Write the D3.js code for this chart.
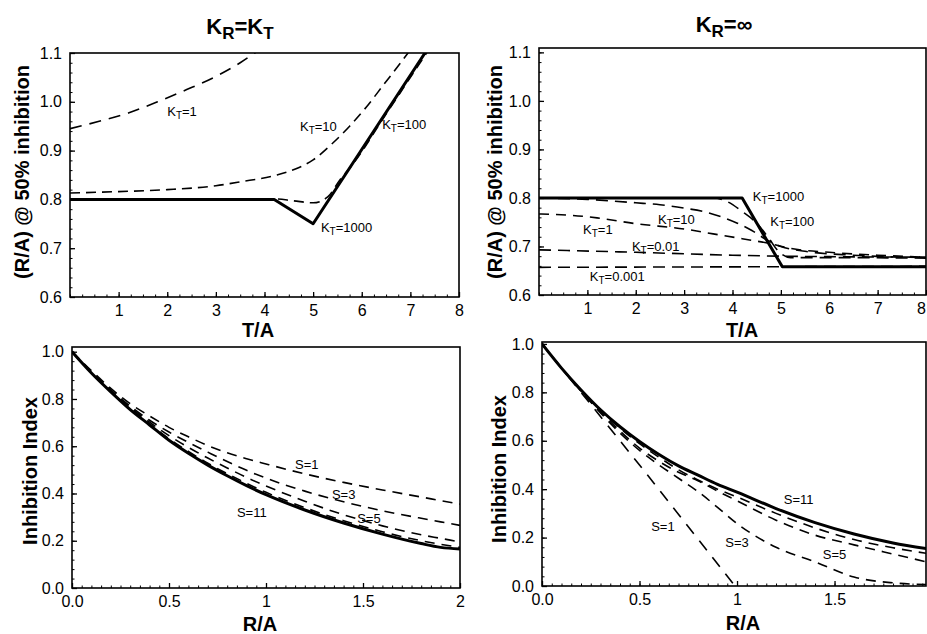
<!DOCTYPE html>
<html><head><meta charset="utf-8">
<script src="https://cdn.jsdelivr.net/npm/d3@7"></script>
<style>
body{margin:0;background:#fff}
svg{display:block}
text{font-family:"Liberation Sans",Arial,Helvetica,sans-serif;fill:#000}
</style>
</head><body>
<svg id="c" width="927" height="634"></svg>
<script>
// ---------- Panel A (top-left): K_R = K_T, (R/A)@50% vs T/A ----------
const A_kt1_x    = [0, 0.6, 1.2, 1.8, 2.4, 3.0, 3.5, 3.8, 4.1];
const A_kt1_y    = [0.945, 0.96, 0.977, 1.0, 1.025, 1.052, 1.08, 1.1, 1.12];
const A_kt10_x   = [0, 1, 2, 3, 3.5, 4.25, 4.7, 5.0, 5.4, 5.75, 6.1, 6.45, 6.8, 7.1];
const A_kt10_y   = [0.813, 0.816, 0.82, 0.828, 0.836, 0.85, 0.865, 0.881, 0.915, 0.95, 0.99, 1.035, 1.08, 1.12];
const A_kt100_x  = [0, 4.2, 4.6, 5.0, 5.3, 5.55, 5.8, 6.5, 7.3, 7.6];
const A_kt100_y  = [0.801, 0.801, 0.797, 0.793, 0.805, 0.84, 0.87, 0.975, 1.095, 1.14];
const A_kt1000_x = [0, 4.2, 5.0, 7.3, 7.6];
const A_kt1000_y = [0.80, 0.80, 0.75, 1.10, 1.146];
const A_xTicks = [1, 2, 3, 4, 5, 6, 7, 8];
const A_xLabels = ["1", "2", "3", "4", "5", "6", "7", "8"];
const A_yTicks = [0.6, 0.7, 0.8, 0.9, 1.0, 1.1];
const A_yLabels = ["0.6", "0.7", "0.8", "0.9", "1.0", "1.1"];

// ---------- Panel B (top-right): K_R = inf ----------
const B_kt1000_x = [0, 4.2, 5.03, 8];
const B_kt1000_y = [0.80, 0.80, 0.658, 0.658];
const B_kt100_x  = [0, 3.6, 3.9, 4.2, 4.5, 4.75, 4.95, 5.2, 6, 8];
const B_kt100_y  = [0.80, 0.80, 0.792, 0.772, 0.748, 0.717, 0.69, 0.677, 0.677, 0.676];
const B_kt10_x   = [0, 1, 2, 2.5, 3.0, 3.4, 3.8, 4.1, 4.4, 4.72, 5.0, 5.5, 6.5, 8];
const B_kt10_y   = [0.80, 0.797, 0.79, 0.786, 0.779, 0.772, 0.76, 0.748, 0.733, 0.713, 0.70, 0.69, 0.682, 0.677];
const B_kt1_x    = [0, 0.7, 1.2, 2.0, 3.0, 3.6, 4.2, 4.72, 5.2, 6, 7, 8];
const B_kt1_y    = [0.767, 0.764, 0.759, 0.747, 0.736, 0.726, 0.716, 0.707, 0.696, 0.688, 0.682, 0.678];
const B_kt001_x  = [0, 2, 4, 5, 6, 8];
const B_kt001_y  = [0.693, 0.688, 0.682, 0.68, 0.679, 0.678];
const B_kt0001_x = [0, 8];
const B_kt0001_y = [0.657, 0.659];
const B_xTicks = [1, 2, 3, 4, 5, 6, 7, 8];
const B_xLabels = ["1", "2", "3", "4", "5", "6", "7", "8"];
const B_yTicks = [0.6, 0.7, 0.8, 0.9, 1.0, 1.1];
const B_yLabels = ["0.6", "0.7", "0.8", "0.9", "1.0", "1.1"];

// ---------- Panel C (bottom-left): Inhibition index vs R/A, K_R = K_T ----------
const C_x     = [0, 0.1, 0.2, 0.3, 0.4, 0.5, 0.6, 0.7, 0.8, 0.9, 1.0, 1.2, 1.4, 1.6, 1.8, 1.9, 2.0];
const C_s1    = [1.0, 0.92, 0.845, 0.78, 0.728, 0.68, 0.64, 0.603, 0.572, 0.547, 0.525, 0.483, 0.447, 0.415, 0.385, 0.37, 0.355];
const C_s3    = [1.0, 0.915, 0.838, 0.77, 0.71, 0.66, 0.616, 0.575, 0.535, 0.498, 0.465, 0.41, 0.365, 0.327, 0.295, 0.28, 0.265];
const C_s5    = [1.0, 0.912, 0.835, 0.765, 0.702, 0.645, 0.595, 0.55, 0.508, 0.468, 0.432, 0.367, 0.31, 0.263, 0.225, 0.21, 0.195];
const C_s7    = [1.0, 0.911, 0.832, 0.76, 0.695, 0.632, 0.578, 0.528, 0.484, 0.443, 0.405, 0.34, 0.285, 0.238, 0.2, 0.185, 0.172];
const C_s11   = [1.0, 0.91, 0.83, 0.755, 0.69, 0.625, 0.57, 0.52, 0.475, 0.433, 0.395, 0.33, 0.275, 0.228, 0.188, 0.172, 0.165];
const C_xTicks = [0, 0.5, 1, 1.5, 2];
const C_xLabels = ["0.0", "0.5", "1", "1.5", "2"];
const C_yTicks = [0, 0.2, 0.4, 0.6, 0.8, 1.0];
const C_yLabels = ["0.0", "0.2", "0.4", "0.6", "0.8", "1.0"];

// ---------- Panel D (bottom-right): Inhibition index vs R/A, K_R = inf ----------
const D_x     = [0, 0.1, 0.2, 0.3, 0.4, 0.5, 0.6, 0.7, 0.8, 0.9, 1.0, 1.2, 1.4, 1.6, 1.8, 1.97];
const D_s1_x  = [0, 0.5, 0.99];
const D_s1    = [1.0, 0.5, 0.0];
const D_s3    = [1.0, 0.9, 0.805, 0.715, 0.632, 0.56, 0.5, 0.445, 0.39, 0.325, 0.258, 0.16, 0.1, 0.037, 0.013, 0.006];
const D_s5    = [1.0, 0.9, 0.807, 0.72, 0.64, 0.57, 0.515, 0.47, 0.435, 0.392, 0.352, 0.272, 0.21, 0.17, 0.132, 0.1];
const D_s7    = [1.0, 0.9, 0.808, 0.724, 0.652, 0.588, 0.532, 0.48, 0.438, 0.4, 0.368, 0.3, 0.24, 0.192, 0.158, 0.135];
const D_s11   = [1.0, 0.9, 0.81, 0.728, 0.658, 0.597, 0.543, 0.496, 0.458, 0.42, 0.388, 0.32, 0.262, 0.215, 0.178, 0.155];
const D_xTicks = [0, 0.5, 1, 1.5];
const D_xLabels = ["0.0", "0.5", "1", "1.5"];
const D_yTicks = [0, 0.2, 0.4, 0.6, 0.8, 1.0];
const D_yLabels = ["0.0", "0.2", "0.4", "0.6", "0.8", "1.0"];

const svg = d3.select("#c");
let clipId = 0;

function panel(o) {
  const x = d3.scaleLinear().domain(o.xd).range([o.l, o.r]);
  const y = d3.scaleLinear().domain(o.yd).range([o.b, o.t]);
  const id = "clip" + (clipId++);
  svg.append("clipPath").attr("id", id).append("rect")
    .attr("x", o.l).attr("y", o.t).attr("width", o.r - o.l).attr("height", o.b - o.t);
  const g = svg.append("g").attr("clip-path", "url(#" + id + ")");
  o.series.forEach(s => {
    const pts = s.xs.map((xv, i) => [xv, s.ys[i]]);
    const line = d3.line().x(d => x(d[0])).y(d => y(d[1]))
      .curve(s.linear ? d3.curveLinear : d3.curveMonotoneX);
    g.append("path").attr("d", line(pts)).attr("fill", "none")
      .attr("stroke", "#000").attr("stroke-width", s.w || 1.6)
      .attr("stroke-dasharray", s.dash || null)
      .attr("stroke-linejoin", "round").attr("stroke-linecap", "butt");
  });
  // frame
  svg.append("rect").attr("x", o.l).attr("y", o.t).attr("width", o.r - o.l).attr("height", o.b - o.t)
    .attr("fill", "none").attr("stroke", "#000").attr("stroke-width", 1.6);
  // minor ticks
  const mx = svg.append("g").attr("transform", `translate(0,${o.b})`)
    .call(d3.axisBottom(x).tickValues(d3.range(o.xd[0], o.xd[1] + 1e-9, o.xMinor)).tickSize(-2.5).tickFormat(""));
  mx.select(".domain").remove();
  mx.selectAll("line").attr("stroke-width", 1);
  const my = svg.append("g").attr("transform", `translate(${o.l},0)`)
    .call(d3.axisLeft(y).tickValues(d3.range(o.yd[0], o.yd[1] + 1e-9, o.yMinor)).tickSize(-2.5).tickFormat(""));
  my.select(".domain").remove();
  my.selectAll("line").attr("stroke-width", 1);
  // major axes
  const ax = svg.append("g").attr("transform", `translate(0,${o.b})`)
    .call(d3.axisBottom(x).tickValues(o.xt).tickFormat((d, i) => o.xl[i]).tickSize(-5).tickPadding(8));
  ax.select(".domain").remove();
  ax.selectAll("line").attr("stroke-width", 1.3);
  ax.selectAll("text").attr("font-size", 16).attr("font-family", '"Liberation Sans",Arial,sans-serif');
  // keep an edge label inside the page
  ax.selectAll("text").filter(d => x(d) + 5 > 927).attr("dx", -5);
  const ay = svg.append("g").attr("transform", `translate(${o.l},0)`)
    .call(d3.axisLeft(y).tickValues(o.yt).tickFormat((d, i) => o.yl[i]).tickSize(-5).tickPadding(8));
  ay.select(".domain").remove();
  ay.selectAll("line").attr("stroke-width", 1.3);
  ay.selectAll("text").attr("font-size", 16).attr("font-family", '"Liberation Sans",Arial,sans-serif');
  // axis titles
  svg.append("text").attr("x", o.xtPos[0]).attr("y", o.xtPos[1]).attr("text-anchor", "middle")
    .attr("font-size", 20).attr("font-weight", "bold").text(o.xTitle);
  svg.append("text").attr("transform", `translate(${o.ytPos[0]},${o.ytPos[1]}) rotate(-90)`)
    .attr("text-anchor", "middle").attr("dy", "0.35em")
    .attr("font-size", 20).attr("font-weight", "bold").text(o.yTitle);
  // series labels
  o.labels.forEach(lb => {
    const t = svg.append("text").attr("x", x(lb.x)).attr("y", y(lb.y)).attr("font-size", 13);
    t.append("tspan").text(lb.main);
    if (lb.sub) {
      t.append("tspan").attr("font-size", 10).attr("dy", 3).text(lb.sub);
      t.append("tspan").attr("dy", -3).text(lb.rest);
    }
  });
  return {x, y};
}

function title(cx, base, sub2) {
  const t = svg.append("text").attr("x", cx).attr("y", base).attr("text-anchor", "middle")
    .attr("font-size", 22).attr("font-weight", "bold");
  t.append("tspan").text("K");
  t.append("tspan").attr("font-size", 17).attr("dy", 5).text("R");
  if (sub2) {
    t.append("tspan").attr("dy", -5).text("=K");
    t.append("tspan").attr("font-size", 17).attr("dy", 5).text("T");
  } else {
    t.append("tspan").attr("dy", -5).text("=∞");
  }
}

title(240, 34, true);
title(724, 32, false);

panel({
  l: 70, r: 459, t: 53, b: 297, xd: [0, 8], yd: [0.6, 1.1], xMinor: 0.25, yMinor: 0.02,
  xt: A_xTicks, xl: A_xLabels, yt: A_yTicks, yl: A_yLabels,
  xTitle: "T/A", xtPos: [258, 337], yTitle: "(R/A) @ 50% inhibition", ytPos: [22, 172],
  series: [
    {xs: A_kt1_x, ys: A_kt1_y, dash: "12,8"},
    {xs: A_kt10_x, ys: A_kt10_y, dash: "10,6"},
    {xs: A_kt100_x, ys: A_kt100_y, dash: "10,6"},
    {xs: A_kt1000_x, ys: A_kt1000_y, w: 3, linear: true}
  ],
  labels: [
    {x: 2.0, y: 0.971, main: "K", sub: "T", rest: "=1"},
    {x: 4.73, y: 0.940, main: "K", sub: "T", rest: "=10"},
    {x: 6.42, y: 0.944, main: "K", sub: "T", rest: "=100"},
    {x: 5.16, y: 0.733, main: "K", sub: "T", rest: "=1000"}
  ]
});

panel({
  l: 539, r: 926, t: 48, b: 295, xd: [0, 8], yd: [0.6, 1.109], xMinor: 0.25, yMinor: 0.02,
  xt: B_xTicks, xl: B_xLabels, yt: B_yTicks, yl: B_yLabels,
  xTitle: "T/A", xtPos: [742, 337], yTitle: "(R/A) @ 50% inhibition", ytPos: [495, 172],
  series: [
    {xs: B_kt0001_x, ys: B_kt0001_y, dash: "12,7"},
    {xs: B_kt001_x, ys: B_kt001_y, dash: "12,7"},
    {xs: B_kt1_x, ys: B_kt1_y, dash: "10,7"},
    {xs: B_kt10_x, ys: B_kt10_y, dash: "12,7"},
    {xs: B_kt100_x, ys: B_kt100_y, dash: "12,7"},
    {xs: B_kt1000_x, ys: B_kt1000_y, w: 3, linear: true}
  ],
  labels: [
    {x: 4.42, y: 0.794, main: "K", sub: "T", rest: "=1000"},
    {x: 4.78, y: 0.742, main: "K", sub: "T", rest: "=100"},
    {x: 2.46, y: 0.746, main: "K", sub: "T", rest: "=10"},
    {x: 0.91, y: 0.726, main: "K", sub: "T", rest: "=1"},
    {x: 1.92, y: 0.691, main: "K", sub: "T", rest: "=0.01"},
    {x: 1.05, y: 0.629, main: "K", sub: "T", rest: "=0.001"}
  ]
});

panel({
  l: 72, r: 460, t: 347, b: 588, xd: [0, 2], yd: [0, 1.02], xMinor: 0.05, yMinor: 0.04,
  xt: C_xTicks, xl: C_xLabels, yt: C_yTicks, yl: C_yLabels,
  xTitle: "R/A", xtPos: [260, 631], yTitle: "Inhibition Index", ytPos: [30, 471],
  series: [
    {xs: C_x, ys: C_s1, dash: "10,7"},
    {xs: C_x, ys: C_s3, dash: "10,7"},
    {xs: C_x, ys: C_s5, dash: "10,7"},
    {xs: C_x, ys: C_s7, dash: "10,7"},
    {xs: C_x, ys: C_s11, w: 3}
  ],
  labels: [
    {x: 1.15, y: 0.504, main: "S=1"},
    {x: 1.34, y: 0.376, main: "S=3"},
    {x: 1.47, y: 0.275, main: "S=5"},
    {x: 0.85, y: 0.300, main: "S=11"}
  ]
});

panel({
  l: 542, r: 926, t: 342, b: 586, xd: [0, 1.969], yd: [0, 1.008], xMinor: 0.05, yMinor: 0.04,
  xt: D_xTicks, xl: D_xLabels, yt: D_yTicks, yl: D_yLabels,
  xTitle: "R/A", xtPos: [743, 630], yTitle: "Inhibition Index", ytPos: [499, 469],
  series: [
    {xs: D_s1_x, ys: D_s1, dash: "12,9", linear: true},
    {xs: D_x, ys: D_s3, dash: "10,7"},
    {xs: D_x, ys: D_s5, dash: "10,7"},
    {xs: D_x, ys: D_s7, dash: "10,7"},
    {xs: D_x, ys: D_s11, w: 3}
  ],
  labels: [
    {x: 1.24, y: 0.339, main: "S=11"},
    {x: 0.56, y: 0.227, main: "S=1"},
    {x: 0.94, y: 0.161, main: "S=3"},
    {x: 1.44, y: 0.112, main: "S=5"}
  ]
});
</script>
</body></html>
